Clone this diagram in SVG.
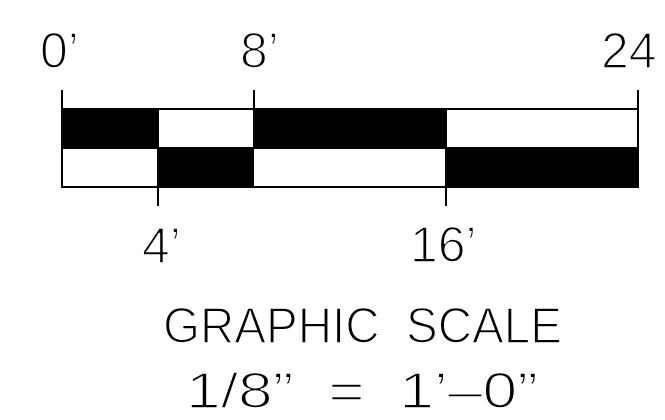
<svg xmlns="http://www.w3.org/2000/svg" width="665" height="420" viewBox="0 0 665 420">
<style>
.t{font-family:"Liberation Sans","DejaVu Sans",sans-serif;font-size:50px;fill:#000;stroke:#fff;stroke-width:1.6px;paint-order:normal}
.ln{stroke:#000;stroke-width:2;fill:none}
.blk{fill:#000}
</style>
<rect width="665" height="420" fill="#fff"/>
<g id="bars">
<rect class="blk" x="62" y="109" width="96" height="39"/>
<rect class="blk" x="254" y="109" width="192" height="39"/>
<rect class="blk" x="158" y="148" width="96" height="39"/>
<rect class="blk" x="446" y="148" width="192" height="39"/>
</g>
<g id="lines">
<rect class="ln" x="62" y="109" width="576" height="78"/>
<line class="ln" x1="62" y1="148" x2="638" y2="148"/>
<line class="ln" x1="62" y1="90" x2="62" y2="109"/>
<line class="ln" x1="254" y1="90" x2="254" y2="148"/>
<line class="ln" x1="638" y1="90" x2="638" y2="109"/>
<line class="ln" x1="158" y1="109" x2="158" y2="206"/>
<line class="ln" x1="446" y1="109" x2="446" y2="206"/>
</g>
<g id="labels">
<text class="t" x="40" y="68">0’</text>
<text class="t" x="240" y="68">8’</text>
<text class="t" x="601" y="68">24</text>
<text class="t" x="142" y="263">4’</text>
<text class="t" x="410" y="262">16’</text>
<text class="t" x="163" y="343" font-size="49" xml:space="preserve" textLength="399" lengthAdjust="spacingAndGlyphs">GRAPHIC  SCALE</text>
<text class="t" x="186" y="408" font-size="49" xml:space="preserve" textLength="352" lengthAdjust="spacingAndGlyphs">1/8”  =  1’–0”</text>
</g>
</svg>
